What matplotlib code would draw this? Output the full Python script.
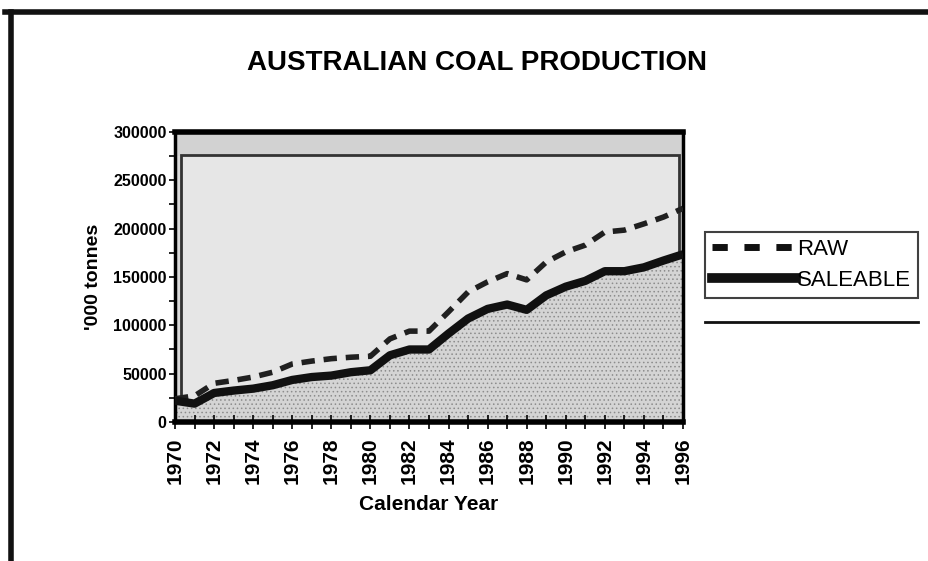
import matplotlib
matplotlib.use("Agg")
import matplotlib.pyplot as plt
from matplotlib.patches import Rectangle
from matplotlib.lines import Line2D
from matplotlib.ticker import MultipleLocator

plt.rcParams['font.family'] = ['Liberation Sans', 'DejaVu Sans']
plt.rcParams['hatch.color'] = '#8c8c8c'
plt.rcParams['hatch.linewidth'] = 0.6

# data ('000 tonnes)
years = list(range(1970, 1997))
raw = [24000, 27000, 40000, 43000, 46500, 51500, 60000, 63000, 65500, 67000,
       68000, 86000, 94000, 94000, 114000, 134500, 145000, 153500, 147000, 165500,
       176000, 183000, 196500, 198500, 205000, 212000, 221000]
saleable = [22000, 19000, 30000, 32500, 34500, 38000, 43500, 46500, 48000, 51500,
            53500, 69000, 75000, 75000, 91500, 107000, 117000, 121500, 116000, 131000,
            140000, 146000, 156000, 156000, 160000, 167000, 173500]
year_labels = [str(y) for y in range(1970, 1997, 2)]

fig = plt.figure(figsize=(9.29, 5.61), dpi=100)
ax = fig.add_axes([0.1884, 0.2478, 0.5468, 0.5169])

# stippled backdrop like the scanned original
ax.set_facecolor('#d9d9d9')
ax.add_patch(Rectangle((1970, 300000), 26, -25000, facecolor='#d2d2d2', hatch='....',
                       edgecolor='none', zorder=0))
ax.add_patch(Rectangle((1970.3, 0), 25.5, 276000, facecolor='#e6e6e6',
                       edgecolor='#333333', lw=2, zorder=0.5))
ax.fill_between(years, 0, saleable, facecolor='#d4d4d4', hatch='....',
                edgecolor='none', zorder=1)

ax.plot(years, raw, color='#202020', lw=4, ls=(0, (2.4, 1.6)), zorder=3)
ax.plot(years, saleable, color='#111111', lw=6, solid_capstyle='butt', zorder=3)

ax.set_xlim(1970, 1996)
ax.set_ylim(0, 300000)
ax.xaxis.set_major_locator(MultipleLocator(2))
ax.xaxis.set_minor_locator(MultipleLocator(1))
ax.yaxis.set_major_locator(MultipleLocator(50000))
ax.yaxis.set_minor_locator(MultipleLocator(25000))
ax.set_xticks(range(1970, 1997, 2))
ax.set_xticklabels(year_labels, rotation=90, fontsize=15, fontweight='bold')
ax.set_yticks(range(0, 300001, 50000))
ax.set_yticklabels([str(v) for v in range(0, 300001, 50000)], fontsize=11.5,
                   fontweight='bold')
ax.tick_params(axis='x', which='both', direction='inout', length=10, width=1.2, pad=6)
ax.tick_params(axis='y', which='both', direction='out', length=4, width=1.2, pad=2)

for s in ['left', 'right']:
    ax.spines[s].set_linewidth(2.5)
ax.spines['bottom'].set_linewidth(4)
ax.spines['top'].set_linewidth(4)

ax.set_xlabel('Calendar Year', fontsize=15, fontweight='bold', labelpad=8)
ax.set_ylabel("'000 tonnes", fontsize=14, fontweight='bold', labelpad=8)

fig.text(0.513, 0.887, 'AUSTRALIAN COAL PRODUCTION', ha='center', va='center',
         fontsize=20, fontweight='bold')

# legend
handles = [Line2D([], [], color='#111111', lw=5, ls=(0, (2.2, 2.4))),
           Line2D([], [], color='#111111', lw=7)]
leg = fig.legend(handles, ['RAW', 'SALEABLE'], loc='upper left',
                 bbox_to_anchor=(0.759, 0.586), frameon=True, fancybox=False,
                 edgecolor='#111111', fontsize=16, handlelength=3.8,
                 handletextpad=0.05, borderpad=0.3, labelspacing=0.45,
                 borderaxespad=0)
leg.get_frame().set_linewidth(1.5)
fig.add_artist(Line2D([0.759, 0.988], [0.426, 0.426], color='#111111', lw=2))

# page border of the scan
fig.add_artist(Line2D([0.005, 1.0], [0.978, 0.978], color='#111111', lw=4))
fig.add_artist(Line2D([0.012, 0.012], [0.978, 0.0], color='#111111', lw=4))

fig.savefig('out.png', dpi=100)
